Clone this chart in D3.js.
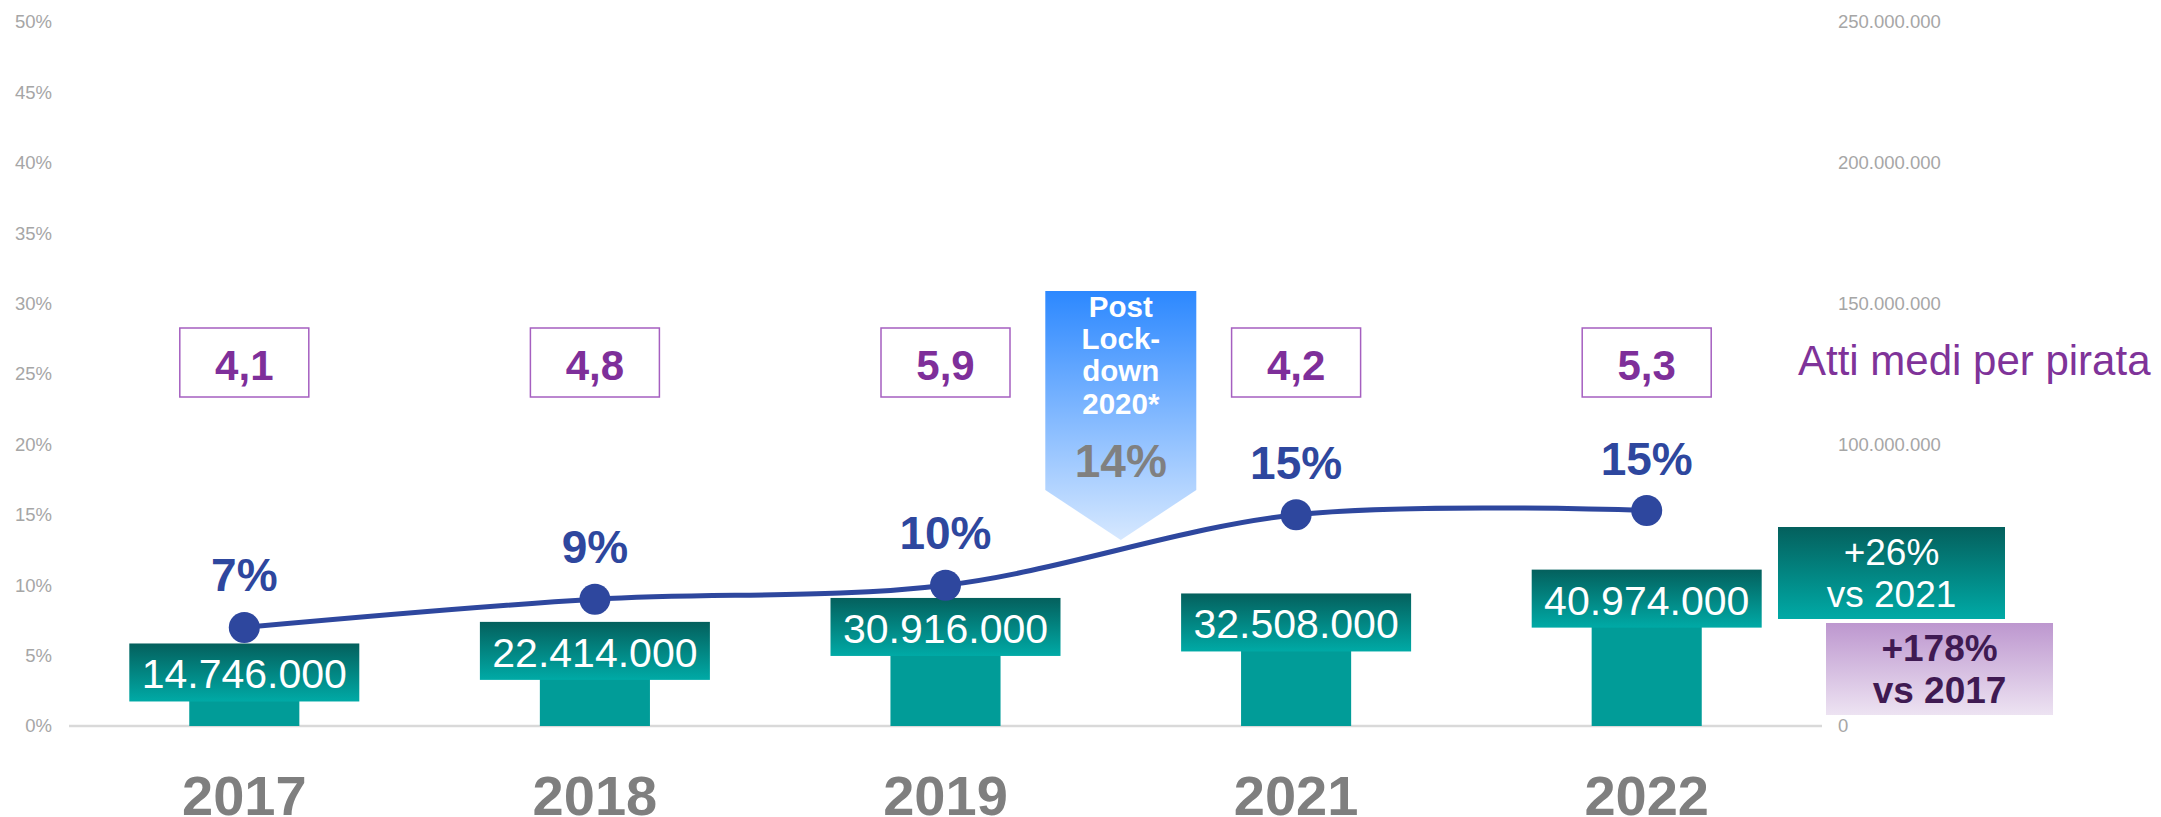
<!DOCTYPE html>
<html>
<head>
<meta charset="utf-8">
<script src="https://cdn.jsdelivr.net/npm/d3@7"></script>
<style>
  html, body { margin: 0; padding: 0; background: #fff; }
  svg { display: block; font-family: 'Liberation Sans', Arial, sans-serif; }
</style>
</head>
<body>
<script>
const width = 2161;
const height = 817;

// data
const years = ['2017', '2018', '2019', '2021', '2022'];
const totals = [14746000, 22414000, 30916000, 32508000, 40974000];
const shares = [7.0, 9.0, 10.0, 15.0, 15.3];
const shareLabels = ['7%', '9%', '10%', '15%', '15%'];
const avgActs = ['4,1', '4,8', '5,9', '4,2', '5,3'];
const pctTicks = [0, 5, 10, 15, 20, 25, 30, 35, 40, 45, 50];
// 50.000.000 sits under the +26% note in the picture
const valueTicks = [0, 100000000, 150000000, 200000000, 250000000];
const lockdownLines = ['Post', 'Lock-', 'down', '2020*'];
const lockdownShare = '14%';
const growth2021 = ['+26%', 'vs 2021'];
const growth2017 = ['+178%', 'vs 2017'];
const avgActsTitle = 'Atti medi per pirata';

const it = d3.formatLocale({ decimal: ',', thousands: '.', grouping: [3], currency: ['€', ''] });
const fmtNum = it.format(',d');

const margin = { left: 69, right: 339, top: 22, bottom: 91 };

function main() {
  const svg = d3.select('body').append('svg').attr('width', width).attr('height', height);
  const defs = svg.append('defs');
  addGradient(defs, 'tealGrad', '#04605d', '#00aaa6');
  addGradient(defs, 'lilacGrad', '#bd97cf', '#ede3f2');
  addGradient(defs, 'blueGrad', '#2c88ff', '#d6e8ff');

  const x = d3.scaleBand()
    .domain(years)
    .range([margin.left, width - margin.right])
    .paddingInner(0.686)
    .paddingOuter(0.343);
  const yPct = d3.scaleLinear().domain([0, 50]).range([height - margin.bottom, margin.top]);
  const yVal = d3.scaleLinear().domain([0, 250000000]).range([height - margin.bottom, margin.top]);
  const cx = d => x(d) + x.bandwidth() / 2;

  // left axis (%)
  const left = svg.append('g')
    .attr('transform', `translate(${margin.left - 17},0)`)
    .call(d3.axisLeft(yPct).tickValues(pctTicks).tickFormat(d => d + '%').tickSize(0).tickPadding(0));
  left.select('.domain').remove();
  left.selectAll('text')
    .attr('fill', '#a6a6a6')
    .style('font-size', '18.5px')
    .style('font-family', "'Liberation Sans', Arial, sans-serif");

  // right axis (values)
  const right = svg.append('g')
    .attr('transform', `translate(${width - margin.right + 16},0)`)
    .call(d3.axisRight(yVal).tickValues(valueTicks).tickFormat(fmtNum).tickSize(0).tickPadding(0));
  right.select('.domain').remove();
  right.selectAll('text')
    .attr('fill', '#a6a6a6')
    .style('font-size', '18.5px')
    .style('font-family', "'Liberation Sans', Arial, sans-serif");

  // baseline
  svg.append('line')
    .attr('x1', margin.left).attr('x2', width - margin.right)
    .attr('y1', yPct(0)).attr('y2', yPct(0))
    .attr('stroke', '#d9d9d9').attr('stroke-width', 2.5);

  const rows = years.map((y, i) => ({ year: y, total: totals[i], share: shares[i], label: shareLabels[i], acts: avgActs[i] }));

  // bars
  svg.append('g').selectAll('rect')
    .data(rows)
    .enter()
    .append('rect')
    .attr('x', d => x(d.year))
    .attr('y', d => yVal(d.total))
    .attr('width', x.bandwidth())
    .attr('height', d => yVal(0) - yVal(d.total))
    .attr('fill', '#019c98');

  // value labels
  const boxW = 230, boxH = 58;
  const vl = svg.append('g').selectAll('g')
    .data(rows)
    .enter()
    .append('g')
    .attr('transform', d => `translate(${cx(d.year)},${yVal(d.total) - 12})`);
  vl.append('rect')
    .attr('x', -boxW / 2).attr('y', -boxH / 2)
    .attr('width', boxW).attr('height', boxH)
    .attr('fill', 'url(#tealGrad)');
  vl.append('text')
    .attr('text-anchor', 'middle')
    .attr('y', boxH / 2 - 13)
    .attr('fill', '#fff')
    .style('font-size', '41px')
    .text(d => fmtNum(d.total));

  // share line
  const line = d3.line()
    .x(d => cx(d.year))
    .y(d => yPct(d.share))
    .curve(d3.curveCardinal.tension(0));
  svg.append('path')
    .datum(rows)
    .attr('d', line)
    .attr('fill', 'none')
    .attr('stroke', '#2e479e')
    .attr('stroke-width', 5);
  svg.append('g').selectAll('circle')
    .data(rows)
    .enter()
    .append('circle')
    .attr('cx', d => cx(d.year))
    .attr('cy', d => yPct(d.share))
    .attr('r', 15.5)
    .attr('fill', '#2e479e');
  svg.append('g').selectAll('text')
    .data(rows)
    .enter()
    .append('text')
    .attr('x', d => cx(d.year))
    .attr('y', d => yPct(d.share) - 36)
    .attr('text-anchor', 'middle')
    .attr('fill', '#2e479e')
    .style('font-size', '46px')
    .style('font-weight', 'bold')
    .text(d => d.label);

  // average acts boxes
  const ab = svg.append('g').selectAll('g')
    .data(rows)
    .enter()
    .append('g')
    .attr('transform', d => `translate(${cx(d.year)},362.5)`);
  ab.append('rect')
    .attr('x', -64.5).attr('y', -34.5)
    .attr('width', 129).attr('height', 69)
    .attr('fill', '#fff')
    .attr('stroke', '#a55fc0')
    .attr('stroke-width', 1.5);
  ab.append('text')
    .attr('text-anchor', 'middle')
    .attr('y', 17.5)
    .attr('fill', '#7e2f9a')
    .style('font-size', '42px')
    .style('font-weight', 'bold')
    .text(d => d.acts);

  svg.append('text')
    .attr('x', width - margin.right - 24)
    .attr('y', 375)
    .attr('fill', '#7f3399')
    .style('font-size', '42px')
    .text(avgActsTitle);

  // year labels
  svg.append('g').selectAll('text')
    .data(rows)
    .enter()
    .append('text')
    .attr('x', d => cx(d.year))
    .attr('y', 815)
    .attr('text-anchor', 'middle')
    .attr('fill', '#7f7f7f')
    .style('font-size', '56px')
    .style('font-weight', 'bold')
    .text(d => d.year);

  // post lockdown arrow between 2019 and 2021
  const ax = (cx('2019') + cx('2021')) / 2;
  const aw = 151;
  const arrow = svg.append('g').attr('transform', `translate(${ax},0)`);
  arrow.append('path')
    .attr('d', `M${-aw / 2},291 H${aw / 2} V490 L0,540 L${-aw / 2},490 Z`)
    .attr('fill', 'url(#blueGrad)');
  arrow.selectAll('text.l')
    .data(lockdownLines)
    .enter()
    .append('text')
    .attr('class', 'l')
    .attr('text-anchor', 'middle')
    .attr('y', (_, i) => 317 + i * 32.2)
    .attr('fill', '#fff')
    .style('font-size', '29.5px')
    .style('font-weight', 'bold')
    .text(d => d);
  arrow.append('text')
    .attr('text-anchor', 'middle')
    .attr('y', 477)
    .attr('fill', '#808080')
    .style('font-size', '46px')
    .style('font-weight', 'bold')
    .text(lockdownShare);

  // growth annotations
  drawNote(svg, 1778, 527, 227, 92, 'url(#tealGrad)', '#fff', 'normal', growth2021);
  drawNote(svg, 1826, 623, 227, 92, 'url(#lilacGrad)', '#3f1a52', 'bold', growth2017);
}

function drawNote(svg, x, y, w, h, fill, color, weight, lines) {
  const g = svg.append('g').attr('transform', `translate(${x},${y})`);
  g.append('rect').attr('width', w).attr('height', h).attr('fill', fill);
  g.selectAll('text')
    .data(lines)
    .enter()
    .append('text')
    .attr('x', w / 2)
    .attr('y', (_, i) => 38 + i * 42)
    .attr('text-anchor', 'middle')
    .attr('fill', color)
    .style('font-size', '37px')
    .style('font-weight', weight)
    .text(d => d);
}

function addGradient(defs, id, top, bottom) {
  const g = defs.append('linearGradient')
    .attr('id', id)
    .attr('x1', 0).attr('y1', 0).attr('x2', 0).attr('y2', 1);
  g.append('stop').attr('offset', '0%').attr('stop-color', top);
  g.append('stop').attr('offset', '100%').attr('stop-color', bottom);
}

main();
</script>
</body>
</html>
